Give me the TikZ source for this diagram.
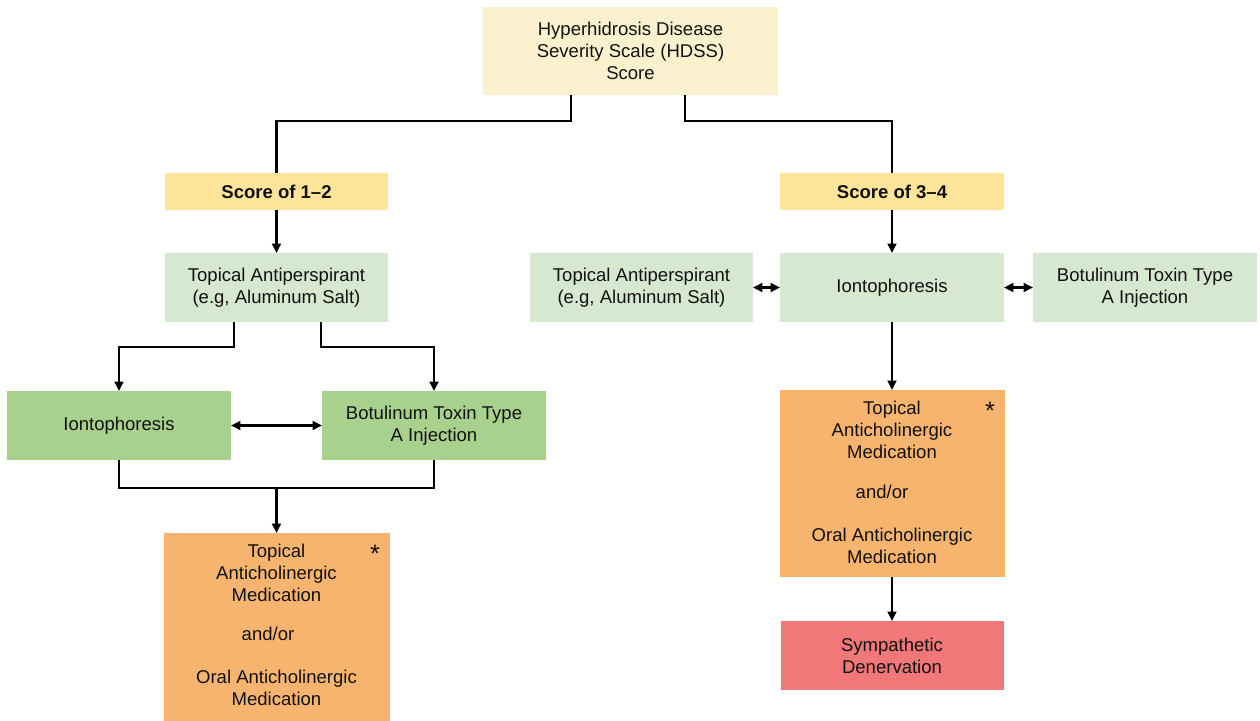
\documentclass[tikz,border=0pt]{standalone}
\usepackage{fontspec}
\setmainfont{Liberation Sans}
\usetikzlibrary{arrows.meta,calc}
\definecolor{topfill}{HTML}{FCF1CE}
\definecolor{scorefill}{HTML}{FFE59A}
\definecolor{lightgreen}{HTML}{D6E8CF}
\definecolor{midgreen}{HTML}{A8D18D}
\definecolor{orangefill}{HTML}{F6B46F}
\definecolor{redfill}{HTML}{F17778}
\definecolor{ink}{HTML}{111111}
\begin{document}
\begin{tikzpicture}[x=0.75pt,y=-0.75pt,
  box/.style n args={2}{draw=none, outer sep=0pt, inner sep=0pt,
    minimum width=#1*0.75pt, minimum height=#2*0.75pt, align=center,
    text=ink, font=\fontsize{13.9}{16.6}\selectfont},
  txt/.style={inner sep=0pt, outer sep=0pt, align=center, text=ink,
    font=\fontsize{13.9}{16.6}\selectfont},
  star/.style={inner sep=0pt, outer sep=0pt, text=ink,
    font=\fontsize{19}{19}\selectfont},
  conn/.style={line width=2.2pt, black},
  arr/.style={conn, -{Triangle[length=7pt,width=6.5pt]}},
  dbl/.style={conn, {Triangle[length=7pt,width=6.5pt]}-{Triangle[length=7pt,width=6.5pt]}}]
\useasboundingbox (0,0) rectangle (1260,721);
\clip (0,0) rectangle (1260,721);
\fill[white] (0,0) rectangle (1260,721);

% nodes
\node[box={295}{88}, fill=topfill] (top) at (630.5,51) {Hyperhidrosis Disease\\Severity Scale (HDSS)\\Score};
\node[box={223}{37}, fill=scorefill, font=\fontsize{13.9}{16.6}\selectfont\bfseries] (s12) at (276.5,191.5) {Score of 1–2};
\node[box={224}{37}, fill=scorefill, font=\fontsize{13.9}{16.6}\selectfont\bfseries] (s34) at (892,191.5) {Score of 3–4};

\node[box={223}{69}, fill=lightgreen] (ta1) at (276.5,287.5) {Topical Antiperspirant\\(e.g, Aluminum Salt)};
\node[box={224}{69}, fill=midgreen] (io1) at (119,425.5) {Iontophoresis};
\node[box={224}{69}, fill=midgreen] (bt1) at (434,425.5) {Botulinum Toxin Type\\A Injection};
\node[box={226}{194}, fill=orangefill] (or1) at (276.5,630) {};
\node[txt] (or1a) at (276.5,573) {Topical\\Anticholinergic\\Medication};
\node[txt] (or1b) at (268,634) {and/or};
\node[txt] (or1c) at (276.5,688) {Oral Anticholinergic\\Medication};
\node[star] (or1s) at (375,554) {*};

\node[box={223}{69}, fill=lightgreen] (ta2) at (641.5,287.5) {Topical Antiperspirant\\(e.g, Aluminum Salt)};
\node[box={224}{69}, fill=lightgreen] (io2) at (892,287.5) {Iontophoresis};
\node[box={224}{69}, fill=lightgreen] (bt2) at (1145,287.5) {Botulinum Toxin Type\\A Injection};
\node[box={225}{187}, fill=orangefill] (or2) at (892,483.5) {};
\node[txt] (or2a) at (892,430) {Topical\\Anticholinergic\\Medication};
\node[txt] (or2b) at (882,492) {and/or};
\node[txt] (or2c) at (892,546) {Oral Anticholinergic\\Medication};
\node[star] (or2s) at (990,411) {*};
\node[box={223}{69}, fill=redfill] (sd) at (892,655.5) {Sympathetic\\Denervation};

% connectors
\draw[conn] ([xshift=-59.5*0.75pt]top.south) -- ++(0,26) -| (s12.north);
\draw[conn] ([xshift=54.5*0.75pt]top.south) -- ++(0,26) -| (s34.north);

\draw[arr] (s12) -- (ta1);
\draw[arr] ([xshift=-42.5*0.75pt]ta1.south) -- ++(0,25) -| (io1.north);
\draw[arr] ([xshift=44.5*0.75pt]ta1.south) -- ++(0,25) -| (bt1.north);
\draw[dbl] (io1) -- (bt1);
\draw[conn] (io1.south) -- ++(0,28) -| (bt1.south);
\coordinate (j1) at (276.5,488);
\draw[arr] (j1) -- (or1.north);

\draw[arr] (s34) -- (io2);
\draw[dbl] (ta2) -- (io2);
\draw[dbl] (io2) -- (bt2);
\draw[arr] (io2) -- (or2);
\draw[arr] (or2) -- (sd);
\end{tikzpicture}
\end{document}
